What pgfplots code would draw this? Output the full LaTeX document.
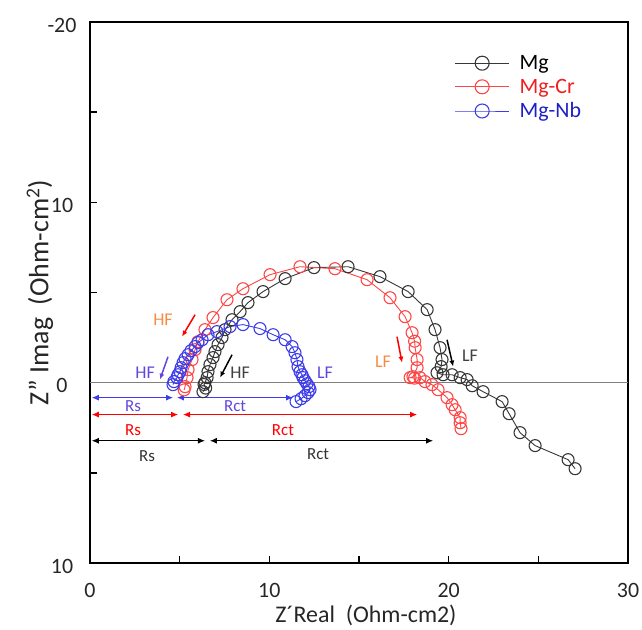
\documentclass[border=0pt]{standalone}
\usepackage{fontspec}
\setmainfont{Carlito}
\usepackage{pgfplots}
\pgfplotsset{compat=1.18}
\usepackage{pgfplotstable}
\usetikzlibrary{arrows.meta}
\definecolor{mgblack}{RGB}{55,55,55}
\definecolor{mgred}{RGB}{255,70,70}
\definecolor{mgblue}{RGB}{60,60,235}
\definecolor{lblblue}{RGB}{100,70,220}
\definecolor{lblorange}{RGB}{245,140,70}
\definecolor{legred}{RGB}{240,30,30}
\definecolor{legblue}{RGB}{30,30,200}

\pgfplotstableread{
X Z
6.30 0.50
6.45 0.30
6.36 0.10
6.41 0.00
6.53 -0.28
6.58 -0.61
6.69 -1.00
6.86 -1.39
6.97 -1.72
7.14 -2.11
7.36 -2.50
7.53 -2.94
7.92 -3.49
8.37 -3.94
8.81 -4.44
9.65 -5.05
10.88 -5.77
12.49 -6.38
14.39 -6.43
16.17 -5.88
17.74 -5.05
18.80 -4.05
19.24 -2.94
19.52 -1.94
19.63 -1.28
19.58 -0.89
19.35 -0.55
19.69 -0.44
20.19 -0.44
20.64 -0.28
21.03 -0.17
21.31 0.17
21.92 0.50
22.98 1.05
23.37 1.72
23.98 2.77
24.82 3.49
26.66 4.27
27.05 4.77
}\mgdata

\pgfplotstableread{
X Z
5.25 0.40
5.30 0.22
5.41 -0.28
5.47 -0.72
5.69 -1.28
5.86 -1.83
6.02 -2.27
6.41 -2.94
6.86 -3.61
7.64 -4.60
8.53 -5.21
10.04 -5.99
11.71 -6.43
13.66 -6.32
15.45 -5.71
16.73 -4.71
17.57 -3.66
17.96 -2.77
18.10 -2.30
18.13 -1.94
18.24 -1.28
18.24 -0.83
18.01 -0.33
17.85 -0.28
18.10 -0.25
18.40 -0.28
18.68 -0.06
19.07 0.11
19.41 0.39
19.91 0.83
20.19 1.22
20.36 1.50
20.64 1.94
20.64 2.22
20.69 2.55
}\crdata

\pgfplotstableread{
X Z
4.63 0.11
4.68 -0.06
4.85 -0.28
4.91 -0.44
5.02 -0.61
5.08 -0.83
5.19 -1.11
5.30 -1.33
5.47 -1.55
5.63 -1.77
5.86 -2.00
6.02 -2.22
6.25 -2.38
6.58 -2.66
7.08 -2.83
7.81 -3.11
8.53 -3.22
9.48 -3.00
10.21 -2.66
10.88 -2.38
11.27 -2.00
11.43 -1.66
11.54 -1.28
11.60 -0.89
11.71 -0.61
11.82 -0.44
11.88 -0.28
11.99 -0.11
12.10 0.06
12.21 0.22
12.27 0.39
12.16 0.55
11.99 0.72
11.77 0.89
11.49 1.05
}\nbdata

\begin{document}
\begin{tikzpicture}
\useasboundingbox (-90bp,-67bp) rectangle (552bp,563bp);
\begin{axis}[
  scale only axis, width=538bp, height=541bp,
  xmin=0, xmax=30, ymin=-20, ymax=10, y dir=reverse,
  axis line style={line width=2.5bp},
  tick align=inside, tick pos=left,
  xtick={0,10,20,30}, minor xtick={5,15,25},
  ytick={-20,-10,0,10}, yticklabels={-20,10,0,10},
  minor ytick={-15,-5,5},
  major tick length=7bp, minor tick length=7bp,
  every tick/.style={line width=1.5bp,black},
  /pgf/number format/assume math mode=true,
  ticklabel style={font=\fontsize{22}{26}\selectfont, text=black!85},
  yticklabel style={anchor=center, xshift=-28bp, yshift=-3bp},
  xticklabel style={anchor=center, yshift=-27bp},
  xlabel={Z´Real\ \ (Ohm-cm2)},
  ylabel={Z” Imag\ \ (Ohm-cm\textsuperscript{2})},
  xlabel style={at={(axis description cs:0.513,-0.097)}, anchor=center, font=\fontsize{24}{28}\selectfont, text=black!85},
  ylabel style={at={(axis description cs:-0.093,0.5)}, rotate=0, anchor=center, font=\fontsize{28}{32}\selectfont, text=black!85},
  legend style={at={(0.672,0.946)}, anchor=north west, draw=none, fill=none,
    font=\fontsize{22}{25}\selectfont, row sep=4bp, cells={anchor=west},
    /tikz/every odd column/.append style={column sep=8bp}},
  legend image code/.code={\draw[#1, mark size=7bp, mark repeat=2, mark phase=2] plot coordinates {(0bp,0bp) (27bp,0bp) (54bp,0bp)};},
]
\draw[gray, line width=1bp] (0,0) -- (30,0);

\addplot[mgblack, line width=0.9bp, mark=o, mark size=6bp, mark options={fill=white, line width=1.1bp}] table[x=X,y=Z] {\mgdata};
\addlegendentry{\textcolor{black}{Mg}}
\addplot[mgred, line width=0.9bp, mark=o, mark size=6bp, mark options={fill=white, line width=1.1bp}] table[x=X,y=Z] {\crdata};
\addlegendentry{\textcolor{legred}{Mg-Cr}}
\addplot[mgblue, line width=0.9bp, mark=o, mark size=6bp, mark options={fill=white, line width=1.1bp}] table[x=X,y=Z] {\nbdata};
\addlegendentry{\textcolor{legblue}{Mg-Nb}}

% Rs / Rct arrows
\draw[mgblue, line width=1bp, {Latex[length=7bp,width=6bp]}-{Latex[length=7bp,width=6bp]}] (0.1,0.83) -- (4.63,0.83);
\draw[mgblue, line width=1bp, {Latex[length=7bp,width=6bp]}-{Latex[length=7bp,width=6bp]}] (4.85,0.83) -- (11.32,0.83);
\draw[red, line width=1bp, {Latex[length=7bp,width=6bp]}-{Latex[length=7bp,width=6bp]}] (0.1,1.77) -- (4.91,1.77);
\draw[red, line width=1bp, {Latex[length=7bp,width=6bp]}-{Latex[length=7bp,width=6bp]}] (5.19,1.77) -- (18.24,1.77);
\draw[black, line width=1bp, {Latex[length=7bp,width=6bp]}-{Latex[length=7bp,width=6bp]}] (0.1,3.22) -- (6.41,3.22);
\draw[black, line width=1bp, {Latex[length=7bp,width=6bp]}-{Latex[length=7bp,width=6bp]}] (6.69,3.22) -- (19.13,3.22);

\node[lblblue, font=\fontsize{17}{19}\selectfont] at (2.40,1.28) {Rs};
\node[lblblue, font=\fontsize{17}{19}\selectfont] at (8.09,1.28) {Rct};
\node[red, font=\fontsize{17}{19}\selectfont] at (2.40,2.61) {Rs};
\node[red, font=\fontsize{17}{19}\selectfont] at (10.76,2.61) {Rct};
\node[black!80, font=\fontsize{17}{19}\selectfont] at (3.18,4.10) {Rs};
\node[black!80, font=\fontsize{17}{19}\selectfont] at (12.72,3.99) {Rct};

% HF / LF labels
\node[lblorange, font=\fontsize{18}{20}\selectfont] at (4.07,-3.49) {HF};
\draw[red, line width=1.5bp, -{Latex[length=6bp,width=5bp]}] (5.86,-3.77) -- (5.13,-2.55);
\node[lblblue, font=\fontsize{18}{20}\selectfont] at (3.07,-0.55) {HF};
\draw[lblblue, line width=1.5bp, -{Latex[length=6bp,width=5bp]}] (4.35,-1.44) -- (3.90,-0.17);
\node[black!75, font=\fontsize{18}{20}\selectfont] at (8.37,-0.55) {HF};
\draw[black, line width=1.5bp, -{Latex[length=6bp,width=5bp]}] (7.92,-1.55) -- (7.25,-0.28);
\node[lblblue, font=\fontsize{18}{20}\selectfont] at (13.11,-0.55) {LF};
\node[lblorange, font=\fontsize{18}{20}\selectfont] at (16.34,-1.16) {LF};
\draw[red, line width=1.5bp, -{Latex[length=6bp,width=5bp]}] (17.12,-2.55) -- (17.40,-1.11);
\node[black!75, font=\fontsize{18}{20}\selectfont] at (21.19,-1.50) {LF};
\draw[black, line width=1.5bp, -{Latex[length=6bp,width=5bp]}] (19.91,-2.38) -- (20.25,-0.89);
\end{axis}
\end{tikzpicture}
\end{document}
